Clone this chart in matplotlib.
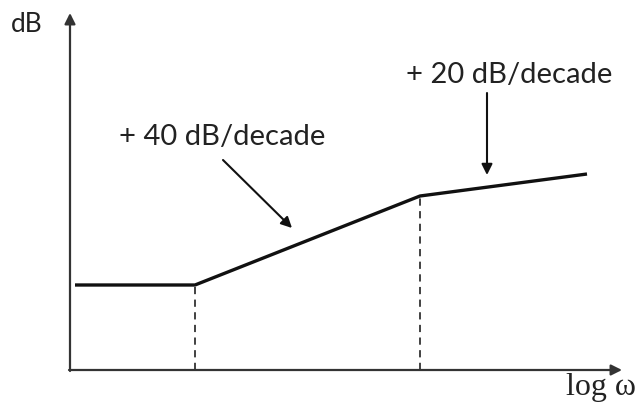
import matplotlib.pyplot as plt

# corner frequencies and asymptote levels (sketch units)
omega = [75, 195, 420, 587]
gain = [118, 118, 207, 229]
corners = [195, 420]
corner_gain = [118, 207]
origin = (70, 33)
x_end, y_end = 622, 390

fig = plt.figure(figsize=(6.38, 4.03), dpi=100)
ax = fig.add_axes([0, 0, 1, 1])
ax.set_xlim(0, 638)
ax.set_ylim(0, 403)
ax.axis('off')

# axes with arrow heads
ax.annotate('', xy=(x_end, origin[1]), xytext=(origin[0] - 1, origin[1]),
            arrowprops=dict(arrowstyle='-|>', color='#333333', lw=1.6, mutation_scale=16,
                            shrinkA=0, shrinkB=0))
ax.annotate('', xy=(origin[0], y_end), xytext=(origin[0], origin[1] - 1),
            arrowprops=dict(arrowstyle='-|>', color='#333333', lw=1.6, mutation_scale=16,
                            shrinkA=0, shrinkB=0))

# asymptotic magnitude curve
ax.plot(omega, gain, color='#111111', lw=2.4, solid_capstyle='butt')

# dashed drop lines at corner frequencies
for xc, yc in zip(corners, corner_gain):
    ax.plot([xc, xc], [origin[1], yc], color='#333333', lw=1.3, ls=(0, (4, 3)))

ax.text(11, 378, 'dB', fontsize=19, family='Lato', color='#222222', va='center')
ax.text(566, 15, 'log ω', fontsize=23, family='Liberation Serif', color='#222222', va='center')

ax.text(222, 266, '+ 40 dB/decade', fontsize=21, family='Lato', color='#222222',
        ha='center', va='center')
ax.annotate('', xy=(292, 175), xytext=(223, 243),
            arrowprops=dict(arrowstyle='-|>', color='#111111', lw=1.5, mutation_scale=16,
                            shrinkA=0, shrinkB=0))
ax.text(509, 328, '+ 20 dB/decade', fontsize=21, family='Lato', color='#222222',
        ha='center', va='center')
ax.annotate('', xy=(487, 228), xytext=(487, 310),
            arrowprops=dict(arrowstyle='-|>', color='#111111', lw=1.5, mutation_scale=16,
                            shrinkA=0, shrinkB=0))

fig.savefig('out.png', dpi=100)
